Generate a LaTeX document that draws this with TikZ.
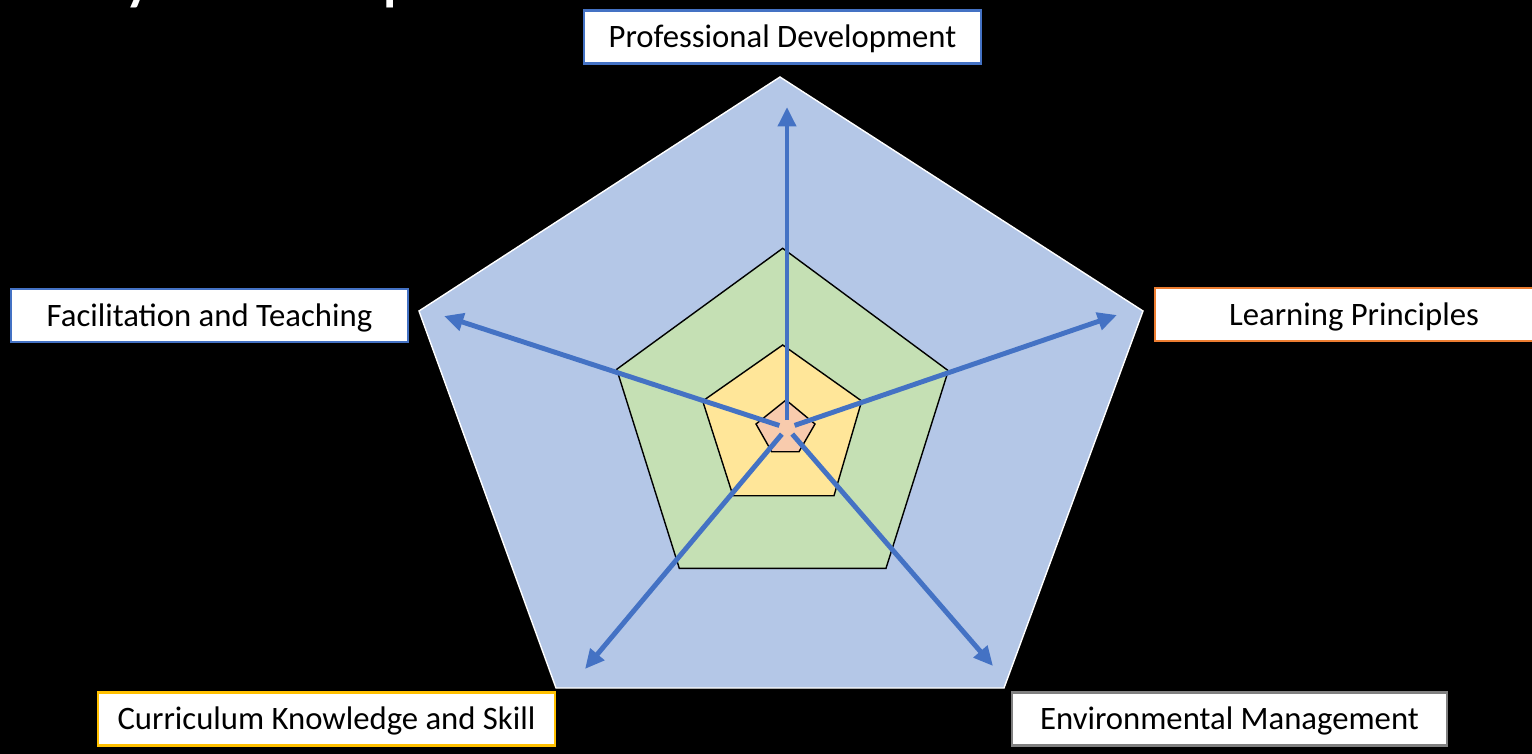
\documentclass[tikz,border=0pt]{standalone}
\usepackage{fontspec}
\setmainfont{Carlito}
\usetikzlibrary{arrows.meta}

\definecolor{axisblue}{HTML}{4472C4}
\definecolor{outerfill}{HTML}{B4C7E7}
\definecolor{greenfill}{HTML}{C5E0B4}
\definecolor{yellowfill}{HTML}{FFE699}
\definecolor{pinkfill}{HTML}{F8CBAD}
\definecolor{orangeline}{HTML}{ED7D31}
\definecolor{goldline}{HTML}{FFC000}

\begin{document}
\begin{tikzpicture}[x=0.01cm,y=-0.01cm,
    dimbox/.style={rectangle, draw, fill=white, line width=0.6pt, minimum height=0.53cm,
      inner sep=0pt, text height=0.21cm, text depth=0pt, text=black, font=\fontsize{9.3}{11}\selectfont},
    axisarrow/.style={draw=axisblue, line width=1.4pt, -{Triangle[length=5.5pt,width=5pt]},
      shorten <=0.08cm}]

      % Background
      \fill[black] (0,0) rectangle (1532,754);
      \useasboundingbox (0,0) rectangle (1532,754);

      % Title (cut off at the top)
      \node[anchor=base west, inner sep=0pt, text=white, font=\fontsize{22}{26}\selectfont] (title) at (40,-5) {of your map?};

      % Pentagons
      \filldraw[fill=outerfill, draw=white, line width=0.4pt]
        (780,77) -- (1143,311) -- (1004,688) -- (556,688) -- (419,311) -- cycle;
      \filldraw[fill=greenfill, draw=black, line width=0.4pt]
        (782.7,248.3) -- (948.3,370.7) -- (886,568.3) -- (679.3,568.3) -- (616.7,369.3) -- cycle;
      \filldraw[fill=yellowfill, draw=black, line width=0.4pt]
        (782.7,345) -- (861.7,401) -- (834,495.7) -- (733,495.7) -- (702.7,401) -- cycle;
      \filldraw[fill=pinkfill, draw=black, line width=0.4pt]
        (786,400) -- (815,424) -- (799,451.7) -- (771.7,451.7) -- (756,424) -- cycle;

      % Labels
      \node[dimbox, draw=axisblue, minimum width=3.97cm] (pd) at (782.5,37) {Professional Development};
      \node[dimbox, draw=orangeline, minimum width=3.98cm] (lp) at (1354,314.5) {Learning Principles};
      \node[dimbox, draw=axisblue, minimum width=3.97cm] (ft) at (209.5,315.5) {Facilitation and Teaching};
      \node[dimbox, draw=goldline, minimum width=4.57cm] (ck) at (326.5,719) {Curriculum Knowledge and Skill};
      \node[dimbox, draw=gray, minimum width=4.35cm] (em) at (1229.5,719) {Environmental Management};

      % Axes
      \coordinate (c) at (787,428);
      \coordinate (pdtip) at (787,107);
      \coordinate (lptip) at (1117,315);
      \coordinate (fttip) at (444,316);
      \coordinate (cktip) at (585,669);
      \coordinate (emtip) at (993,666);

      \draw[axisarrow] (c) -- (pdtip);
      \draw[axisarrow] (c) -- (lptip);
      \draw[axisarrow] (c) -- (fttip);
      \draw[axisarrow] (c) -- (cktip);
      \draw[axisarrow] (c) -- (emtip);

    \end{tikzpicture}
\end{document}
